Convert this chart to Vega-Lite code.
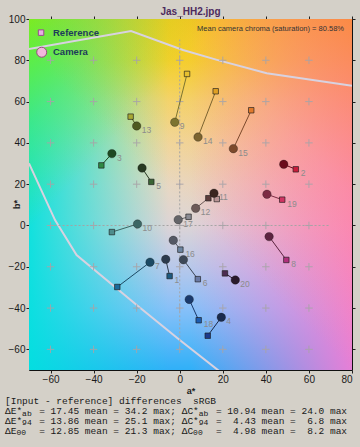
{
  "$schema": "https://vega.github.io/schema/vega-lite/v6.json",
  "width": 323,
  "height": 351,
  "autosize": {"type": "none"},
  "padding": {"left": 29, "top": 19, "right": 8, "bottom": 77},
  "background": "#d4d0c8",
  "config": {
    "view": {"stroke": "#101010", "strokeWidth": 1},
    "font": "Liberation Sans",
    "axis": {"grid": false, "domain": false, "tickColor": "#202020", "tickSize": 3, "labelFont": "Liberation Sans", "labelFontSize": 10, "labelColor": "#1a1a1a", "titleFont": "Liberation Sans", "titleFontSize": 9, "titleFontWeight": "bold", "titleColor": "#202020"}
  },
  "title": {"text": "Jas_HH2.jpg", "fontSize": 10, "fontWeight": "bold", "color": "#4d2a5e", "offset": -3, "anchor": "middle", "font": "Liberation Sans"},
  "datasets": {
    "one": [{}],
    "patches": [
      {"p": "1", "ra": -4.7, "rb": -24.5, "ca": -6.5, "cb": -16.4, "lab": "r"},
      {"p": "2", "ra": 53.9, "rb": 27.2, "ca": 48.3, "cb": 29.6, "lab": "r"},
      {"p": "3", "ra": -36.4, "rb": 29.1, "ca": -31.5, "cb": 34.8, "lab": "c"},
      {"p": "4", "ra": 13.0, "rb": -53.4, "ca": 19.3, "cb": -44.5, "lab": "c"},
      {"p": "5", "ra": -13.2, "rb": 21.1, "ca": -17.5, "cb": 27.8, "lab": "r"},
      {"p": "6", "ra": 8.4, "rb": -26.0, "ca": 1.7, "cb": -16.6, "lab": "r"},
      {"p": "7", "ra": -29.0, "rb": -29.8, "ca": -13.8, "cb": -17.8, "lab": "c"},
      {"p": "8", "ra": 49.5, "rb": -16.7, "ca": 41.5, "cb": -5.4, "lab": "r"},
      {"p": "9", "ra": 3.4, "rb": 73.4, "ca": -2.3, "cb": 50.0, "lab": "c"},
      {"p": "10", "ra": -31.5, "rb": -3.2, "ca": -19.6, "cb": 0.7, "lab": "c"},
      {"p": "11", "ra": 17.2, "rb": 12.8, "ca": 15.9, "cb": 15.6, "lab": "c"},
      {"p": "12", "ra": 13.3, "rb": 13.2, "ca": 7.4, "cb": 8.3, "lab": "c"},
      {"p": "13", "ra": -22.8, "rb": 52.7, "ca": -20.0, "cb": 48.2, "lab": "c"},
      {"p": "14", "ra": 16.7, "rb": 65.0, "ca": 8.5, "cb": 42.8, "lab": "c"},
      {"p": "15", "ra": 33.2, "rb": 55.8, "ca": 24.9, "cb": 37.2, "lab": "c"},
      {"p": "16", "ra": 0.3, "rb": -11.7, "ca": -3.0, "cb": -7.2, "lab": "r"},
      {"p": "17", "ra": 4.1, "rb": 4.2, "ca": -0.7, "cb": 2.8, "lab": "c"},
      {"p": "18", "ra": 8.8, "rb": -45.9, "ca": 4.4, "cb": -35.8, "lab": "r"},
      {"p": "19", "ra": 47.6, "rb": 12.5, "ca": 40.5, "cb": 15.1, "lab": "r"},
      {"p": "20", "ra": 21.0, "rb": -23.2, "ca": 25.8, "cb": -26.4, "lab": "c"}
    ],
    "gamut": [
      {"s": "t", "o": 1, "a": -70, "b": 85.5},
      {"s": "t", "o": 2, "a": -22.6, "b": 94.2},
      {"s": "t", "o": 3, "a": 1.5, "b": 85.0},
      {"s": "t", "o": 4, "a": 17.3, "b": 80.2},
      {"s": "t", "o": 5, "a": 40.4, "b": 73.7},
      {"s": "t", "o": 6, "a": 80, "b": 67.7},
      {"s": "l", "o": 1, "a": -70, "b": 30.1},
      {"s": "l", "o": 2, "a": -57.9, "b": 2.6},
      {"s": "l", "o": 3, "a": -47.9, "b": -14.3},
      {"s": "l", "o": 4, "a": -20, "b": -38.5},
      {"s": "l", "o": 5, "a": 0, "b": -55.5},
      {"s": "l", "o": 6, "a": 18.7, "b": -70.8}
    ],
    "grid": [
      {"a": -60, "b": -60}, {"a": -60, "b": -40}, {"a": -60, "b": -20}, {"a": -60, "b": 0}, {"a": -60, "b": 20}, {"a": -60, "b": 40}, {"a": -60, "b": 60}, {"a": -60, "b": 80},
      {"a": -40, "b": -60}, {"a": -40, "b": -40}, {"a": -40, "b": -20}, {"a": -40, "b": 0}, {"a": -40, "b": 20}, {"a": -40, "b": 40}, {"a": -40, "b": 60}, {"a": -40, "b": 80},
      {"a": -20, "b": -60}, {"a": -20, "b": -40}, {"a": -20, "b": -20}, {"a": -20, "b": 0}, {"a": -20, "b": 20}, {"a": -20, "b": 40}, {"a": -20, "b": 60}, {"a": -20, "b": 80},
      {"a": 0, "b": -60}, {"a": 0, "b": -40}, {"a": 0, "b": -20}, {"a": 0, "b": 0}, {"a": 0, "b": 20}, {"a": 0, "b": 40}, {"a": 0, "b": 60}, {"a": 0, "b": 80},
      {"a": 20, "b": -60}, {"a": 20, "b": -40}, {"a": 20, "b": -20}, {"a": 20, "b": 0}, {"a": 20, "b": 20}, {"a": 20, "b": 40}, {"a": 20, "b": 60}, {"a": 20, "b": 80},
      {"a": 40, "b": -60}, {"a": 40, "b": -40}, {"a": 40, "b": -20}, {"a": 40, "b": 0}, {"a": 40, "b": 20}, {"a": 40, "b": 40}, {"a": 40, "b": 60}, {"a": 40, "b": 80},
      {"a": 60, "b": -60}, {"a": 60, "b": -40}, {"a": 60, "b": -20}, {"a": 60, "b": 0}, {"a": 60, "b": 20}, {"a": 60, "b": 40}, {"a": 60, "b": 60}, {"a": 60, "b": 80}
    ],
    "legend": [
      {"k": "Reference", "b": 93.4},
      {"k": "Camera", "b": 83.9}
    ],
    "footer": [
      {"t": "[Input - reference] differences\u00a0\u00a0sRGB", "b": -85.0},
      {"t": "ΔE*\u00a0\u00a0\u00a0= 17.45 mean = 34.2 max; ΔC*\u00a0\u00a0\u00a0= 10.94 mean = 24.0 max", "b": -89.86},
      {"t": "ΔE*\u00a0\u00a0\u00a0= 13.86 mean = 25.1 max; ΔC*\u00a0\u00a0\u00a0=\u00a0\u00a04.43 mean =\u00a0\u00a06.8 max", "b": -94.7},
      {"t": "ΔE\u00a0\u00a0\u00a0\u00a0= 12.85 mean = 21.3 max; ΔC\u00a0\u00a0\u00a0\u00a0=\u00a0\u00a04.98 mean =\u00a0\u00a08.2 max", "b": -99.54}
    ],
    "subs": [
      {"t": "ab", "a": -73.2, "b": -91.07},
      {"t": "ab", "a": 8.86, "b": -91.07},
      {"t": "94", "a": -73.2, "b": -95.91},
      {"t": "94", "a": 8.86, "b": -95.91},
      {"t": "00", "a": -75.85, "b": -100.75},
      {"t": "00", "a": 6.21, "b": -100.75}
    ]
  },
  "layer": [
    {
      "data": {"name": "one"},
      "layer": [
        {
          "mark": {"type": "rect", "fill": {"gradient": "linear", "x1": 0, "y1": 0, "x2": 0, "y2": 1, "stops": [
            {"offset": 0, "color": "#f4e600"},
            {"offset": 0.118, "color": "#f2e41c"},
            {"offset": 0.235, "color": "#f2e070"},
            {"offset": 0.353, "color": "#f0dca0"},
            {"offset": 0.47, "color": "#e8d8c2"},
            {"offset": 0.588, "color": "#dcd4d6"},
            {"offset": 0.706, "color": "#b8c8ea"},
            {"offset": 0.824, "color": "#88c0f8"},
            {"offset": 1, "color": "#30b0f8"}
          ]}},
          "encoding": {
            "x": {"datum": -70, "type": "quantitative", "scale": {"domain": [-70, 80], "nice": false, "zero": false}, "axis": null},
            "x2": {"datum": 80},
            "y": {"datum": -70, "type": "quantitative", "scale": {"domain": [-70, 100], "nice": false, "zero": false}, "axis": null},
            "y2": {"datum": 100}
          }
        },
        {
          "mark": {"type": "rect", "fill": {"gradient": "linear", "x1": 0, "y1": 0, "x2": 1, "y2": 0, "stops": [
            {"offset": 0, "color": "rgba(0,226,222,0.92)"},
            {"offset": 0.433, "color": "rgba(0,226,222,0)"},
            {"offset": 1, "color": "rgba(0,226,222,0)"}
          ]}},
          "encoding": {"x": {"datum": -70, "type": "quantitative", "axis": null}, "x2": {"datum": 80}, "y": {"datum": -70, "type": "quantitative", "axis": null}, "y2": {"datum": 100}}
        },
        {
          "mark": {"type": "rect", "fill": {"gradient": "linear", "x1": 0, "y1": 0, "x2": 1, "y2": 0, "stops": [
            {"offset": 0, "color": "rgba(255,120,210,0)"},
            {"offset": 0.5, "color": "rgba(255,120,210,0)"},
            {"offset": 1, "color": "rgba(255,120,210,0.88)"}
          ]}},
          "encoding": {"x": {"datum": -70, "type": "quantitative", "axis": null}, "x2": {"datum": 80}, "y": {"datum": -70, "type": "quantitative", "axis": null}, "y2": {"datum": 100}}
        },
        {
          "mark": {"type": "rect", "fill": {"gradient": "linear", "x1": 0, "y1": 0, "x2": 0.3, "y2": 0.3, "stops": [
            {"offset": 0, "color": "rgba(120,242,20,0.95)"},
            {"offset": 0.5, "color": "rgba(120,242,20,0.38)"},
            {"offset": 1, "color": "rgba(120,242,20,0)"}
          ]}},
          "encoding": {"x": {"datum": -70, "type": "quantitative", "axis": null}, "x2": {"datum": 80}, "y": {"datum": -70, "type": "quantitative", "axis": null}, "y2": {"datum": 100}}
        },
        {
          "mark": {"type": "rect", "fill": {"gradient": "linear", "x1": 1, "y1": 0, "x2": 0.5, "y2": 0.55, "stops": [
            {"offset": 0, "color": "rgba(250,140,40,0.8)"},
            {"offset": 0.5, "color": "rgba(250,150,90,0.35)"},
            {"offset": 1, "color": "rgba(250,150,90,0)"}
          ]}},
          "encoding": {"x": {"datum": -70, "type": "quantitative", "axis": null}, "x2": {"datum": 80}, "y": {"datum": -70, "type": "quantitative", "axis": null}, "y2": {"datum": 100}}
        },
        {
          "data": {"name": "gamut"},
          "mark": {"type": "line", "clip": true, "stroke": "#d8d2e0", "strokeWidth": 2},
          "encoding": {
            "x": {"field": "a", "type": "quantitative", "axis": null},
            "y": {"field": "b", "type": "quantitative", "axis": null},
            "detail": {"field": "s"},
            "order": {"field": "o"}
          }
        },
        {
          "mark": {"type": "rule", "stroke": "#a4a4a4", "strokeDash": [2, 2], "strokeWidth": 1},
          "encoding": {"x": {"datum": -60, "type": "quantitative", "axis": null}, "x2": {"datum": 70}, "y": {"datum": 0, "type": "quantitative", "axis": null}}
        },
        {
          "mark": {"type": "rule", "stroke": "#a4a4a4", "strokeDash": [2, 2], "strokeWidth": 1},
          "encoding": {"x": {"datum": 0, "type": "quantitative", "axis": null}, "y": {"datum": -60, "type": "quantitative", "axis": null}, "y2": {"datum": 90}}
        }
      ]
    },
    {
      "data": {"name": "grid"},
      "mark": {"type": "point", "shape": "M-1,0H1M0,-1V1", "size": 56, "filled": false, "stroke": "#a8a4a8", "strokeWidth": 1, "opacity": 0.9},
      "encoding": {
        "x": {"field": "a", "type": "quantitative", "axis": {"orient": "bottom", "values": [-60, -40, -20, 0, 20, 40, 60, 80], "title": "a*", "labelPadding": 1, "titlePadding": 2}},
        "y": {"field": "b", "type": "quantitative", "axis": {"orient": "left", "values": [-60, -40, -20, 0, 20, 40, 60, 80, 100], "title": "b*", "labelPadding": 1, "titleX": -13, "titleY": 185, "titleAngle": -90, "titleAlign": "center", "titleBaseline": "middle"}}
      }
    },
    {
      "data": {"name": "grid"},
      "mark": {"type": "point", "shape": "M-1,0H1M0,-1V1", "size": 56, "filled": false, "opacity": 0},
      "encoding": {
        "x": {"field": "a", "type": "quantitative", "axis": {"orient": "top", "labels": false, "values": [-60, -40, -20, 0, 20, 40, 60, 80], "title": null, "tickSize": 3}},
        "y": {"field": "b", "type": "quantitative", "axis": {"orient": "right", "labels": false, "values": [-60, -40, -20, 0, 20, 40, 60, 80, 100], "title": null, "tickSize": 3}}
      }
    },
    {
      "layer": [
        {
          "data": {"name": "patches"},
          "mark": {"type": "rule", "strokeWidth": 1},
          "encoding": {
            "x": {"field": "ra", "type": "quantitative", "axis": null},
            "y": {"field": "rb", "type": "quantitative", "axis": null},
            "x2": {"field": "ca"},
            "y2": {"field": "cb"},
            "color": {"field": "p", "type": "nominal", "legend": null, "scale": {"domain": ["1","2","3","4","5","6","7","8","9","10","11","12","13","14","15","16","17","18","19","20"], "range": ["#2c3a4c","#6c0c1c","#1e4a22","#1a2a4c","#283a22","#3e4858","#1c4a64","#5c2440","#7c7430","#3c6664","#3a2620","#6c5a58","#4e5a20","#7c6430","#7c4a2c","#545864","#646468","#1a3a6c","#7c2c44","#2a1a2c"]}}
          }
        },
        {
          "data": {"name": "patches"},
          "mark": {"type": "point", "shape": "square", "filled": true, "size": 30, "stroke": "#1a1a1a", "strokeWidth": 0.8, "strokeOpacity": 0.8, "opacity": 1},
          "encoding": {
            "x": {"field": "ra", "type": "quantitative", "axis": null},
            "y": {"field": "rb", "type": "quantitative", "axis": null},
            "fill": {"field": "p", "type": "nominal", "legend": null, "scale": {"domain": ["1","2","3","4","5","6","7","8","9","10","11","12","13","14","15","16","17","18","19","20"], "range": ["#1e5a80","#c81e3c","#2e8a44","#1c3a8c","#3a6434","#6a7aa4","#1a6c9c","#b0307c","#e6c030","#4e8c8c","#b89494","#5c3c3c","#a8a834","#e0a024","#e07a2c","#6e86a2","#8c8c94","#1c5cb0","#d03462","#4c2c50"]}}
          }
        },
        {
          "data": {"name": "patches"},
          "mark": {"type": "circle", "size": 72, "stroke": "#101010", "strokeWidth": 0.6, "strokeOpacity": 0.5, "opacity": 1},
          "encoding": {
            "x": {"field": "ca", "type": "quantitative", "axis": null},
            "y": {"field": "cb", "type": "quantitative", "axis": null},
            "color": {"field": "p", "type": "nominal", "legend": null}
          }
        },
        {
          "data": {"name": "patches"},
          "transform": [{"filter": "datum.lab == 'c'"}],
          "mark": {"type": "text", "align": "left", "baseline": "middle", "dx": 5, "dy": 4, "fontSize": 8.5, "fill": "#8c8c8c", "font": "Liberation Sans"},
          "encoding": {
            "x": {"field": "ca", "type": "quantitative", "axis": null},
            "y": {"field": "cb", "type": "quantitative", "axis": null},
            "text": {"field": "p"}
          }
        },
        {
          "data": {"name": "patches"},
          "transform": [{"filter": "datum.lab == 'r'"}],
          "mark": {"type": "text", "align": "left", "baseline": "middle", "dx": 5, "dy": 4, "fontSize": 8.5, "fill": "#8c8c8c", "font": "Liberation Sans"},
          "encoding": {
            "x": {"field": "ra", "type": "quantitative", "axis": null},
            "y": {"field": "rb", "type": "quantitative", "axis": null},
            "text": {"field": "p"}
          }
        },
        {
          "data": {"name": "one"},
          "mark": {"type": "point", "shape": "square", "filled": true, "size": 30, "fill": "#e8b0e4", "stroke": "#9a4890", "strokeWidth": 1, "opacity": 1},
          "encoding": {"x": {"datum": -64.4, "type": "quantitative", "axis": null}, "y": {"datum": 93.4, "type": "quantitative", "axis": null}}
        },
        {
          "data": {"name": "one"},
          "mark": {"type": "point", "shape": "circle", "filled": true, "size": 100, "fill": "#f0b8dc", "stroke": "#9a4880", "strokeWidth": 1, "opacity": 1},
          "encoding": {"x": {"datum": -64.1, "type": "quantitative", "axis": null}, "y": {"datum": 83.9, "type": "quantitative", "axis": null}}
        },
        {
          "data": {"name": "legend"},
          "mark": {"type": "text", "align": "left", "baseline": "middle", "fontSize": 9.5, "fontWeight": "bold", "fill": "#1d3c5b", "font": "Liberation Sans"},
          "encoding": {
            "x": {"datum": -58.85, "type": "quantitative", "axis": null},
            "y": {"field": "b", "type": "quantitative", "axis": null},
            "text": {"field": "k"}
          }
        },
        {
          "data": {"name": "one"},
          "mark": {"type": "text", "align": "right", "baseline": "middle", "fontSize": 7.5, "fill": "#333333", "font": "Liberation Sans", "text": "Mean camera chroma (saturation) = 80.58%"},
          "encoding": {"x": {"datum": 76.3, "type": "quantitative", "axis": null}, "y": {"datum": 95.2, "type": "quantitative", "axis": null}}
        },
        {
          "data": {"name": "footer"},
          "mark": {"type": "text", "align": "left", "baseline": "middle", "fontSize": 9.5, "fill": "#181818", "font": "Liberation Mono"},
          "encoding": {
            "x": {"datum": -81.15, "type": "quantitative", "axis": null},
            "y": {"field": "b", "type": "quantitative", "axis": null},
            "text": {"field": "t"}
          }
        },
        {
          "data": {"name": "subs"},
          "mark": {"type": "text", "align": "left", "baseline": "middle", "fontSize": 8, "fill": "#181818", "font": "Liberation Mono"},
          "encoding": {
            "x": {"field": "a", "type": "quantitative", "axis": null},
            "y": {"field": "b", "type": "quantitative", "axis": null},
            "text": {"field": "t"}
          }
        }
      ]
    }
  ],
  "resolve": {"axis": {"x": "independent", "y": "independent"}}
}
